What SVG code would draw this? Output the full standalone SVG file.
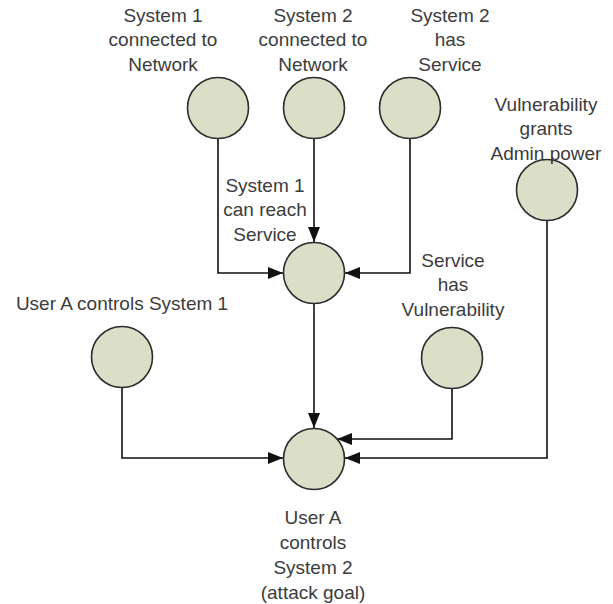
<svg xmlns="http://www.w3.org/2000/svg" width="613" height="604" viewBox="0 0 613 604">
  <style>
    .node { fill: #dcdfc8; stroke: #2b2b2b; stroke-width: 1.6; }
    .label { font-family: "Liberation Sans", Arial, sans-serif; font-size: 19px; fill: #3c3c3c; text-anchor: middle; }
    .edge { fill: none; stroke: #111; stroke-width: 1.6; marker-end: url(#arrow); }
  </style>
  <defs>
    <marker id="arrow" viewBox="0 0 15 12" refX="15" refY="6" markerWidth="15" markerHeight="12" markerUnits="userSpaceOnUse" orient="auto">
      <path d="M0,0 L15,6 L0,12 z" fill="#111"/>
    </marker>
  </defs>

  <g id="connectors">
    <path class="edge" d="M218,139 V273 H283"/>
    <path class="edge" d="M314,139 V242"/>
    <path class="edge" d="M410,139 V273 H345"/>
    <path class="edge" d="M314,304 V428"/>
    <path class="edge" d="M122,388 V458 H283"/>
    <path class="edge" d="M452,389 V439 H337"/>
    <path class="edge" d="M547,221 V458 H345"/>
  </g>

  <g id="sys1-network">
    <circle class="node" cx="218" cy="108" r="30.5"/>
    <text class="label" x="163" y="22">System 1</text>
    <text class="label" x="163" y="46">connected to</text>
    <text class="label" x="163" y="71">Network</text>
  </g>

  <g id="sys2-network">
    <circle class="node" cx="314" cy="108" r="30.5"/>
    <text class="label" x="313" y="22">System 2</text>
    <text class="label" x="313" y="46">connected to</text>
    <text class="label" x="313" y="71">Network</text>
  </g>

  <g id="sys2-service">
    <circle class="node" cx="410" cy="108" r="30.5"/>
    <text class="label" x="450" y="22">System 2</text>
    <text class="label" x="450" y="46">has</text>
    <text class="label" x="450" y="71">Service</text>
  </g>

  <g id="vuln-admin">
    <circle class="node" cx="547" cy="190" r="30.5"/>
    <text class="label" x="546" y="111">Vulnerability</text>
    <text class="label" x="546" y="135">grants</text>
    <text class="label" x="546" y="160">Admin power</text>
  </g>

  <g id="sys1-reach-service">
    <circle class="node" cx="314" cy="273" r="30.5"/>
    <text class="label" x="265" y="192">System 1</text>
    <text class="label" x="265" y="216">can reach</text>
    <text class="label" x="265" y="241">Service</text>
  </g>

  <g id="usera-sys1">
    <circle class="node" cx="122" cy="357" r="30.5"/>
    <text class="label" x="122" y="310">User A controls System 1</text>
  </g>

  <g id="service-vuln">
    <circle class="node" cx="452" cy="358" r="30.5"/>
    <text class="label" x="453" y="267">Service</text>
    <text class="label" x="453" y="291">has</text>
    <text class="label" x="453" y="316">Vulnerability</text>
  </g>

  <g id="usera-sys2">
    <circle class="node" cx="314" cy="459" r="30.5"/>
    <text class="label" x="313" y="524">User A</text>
    <text class="label" x="313" y="549">controls</text>
    <text class="label" x="313" y="574">System 2</text>
    <text class="label" x="313" y="599">(attack goal)</text>
  </g>
</svg>
